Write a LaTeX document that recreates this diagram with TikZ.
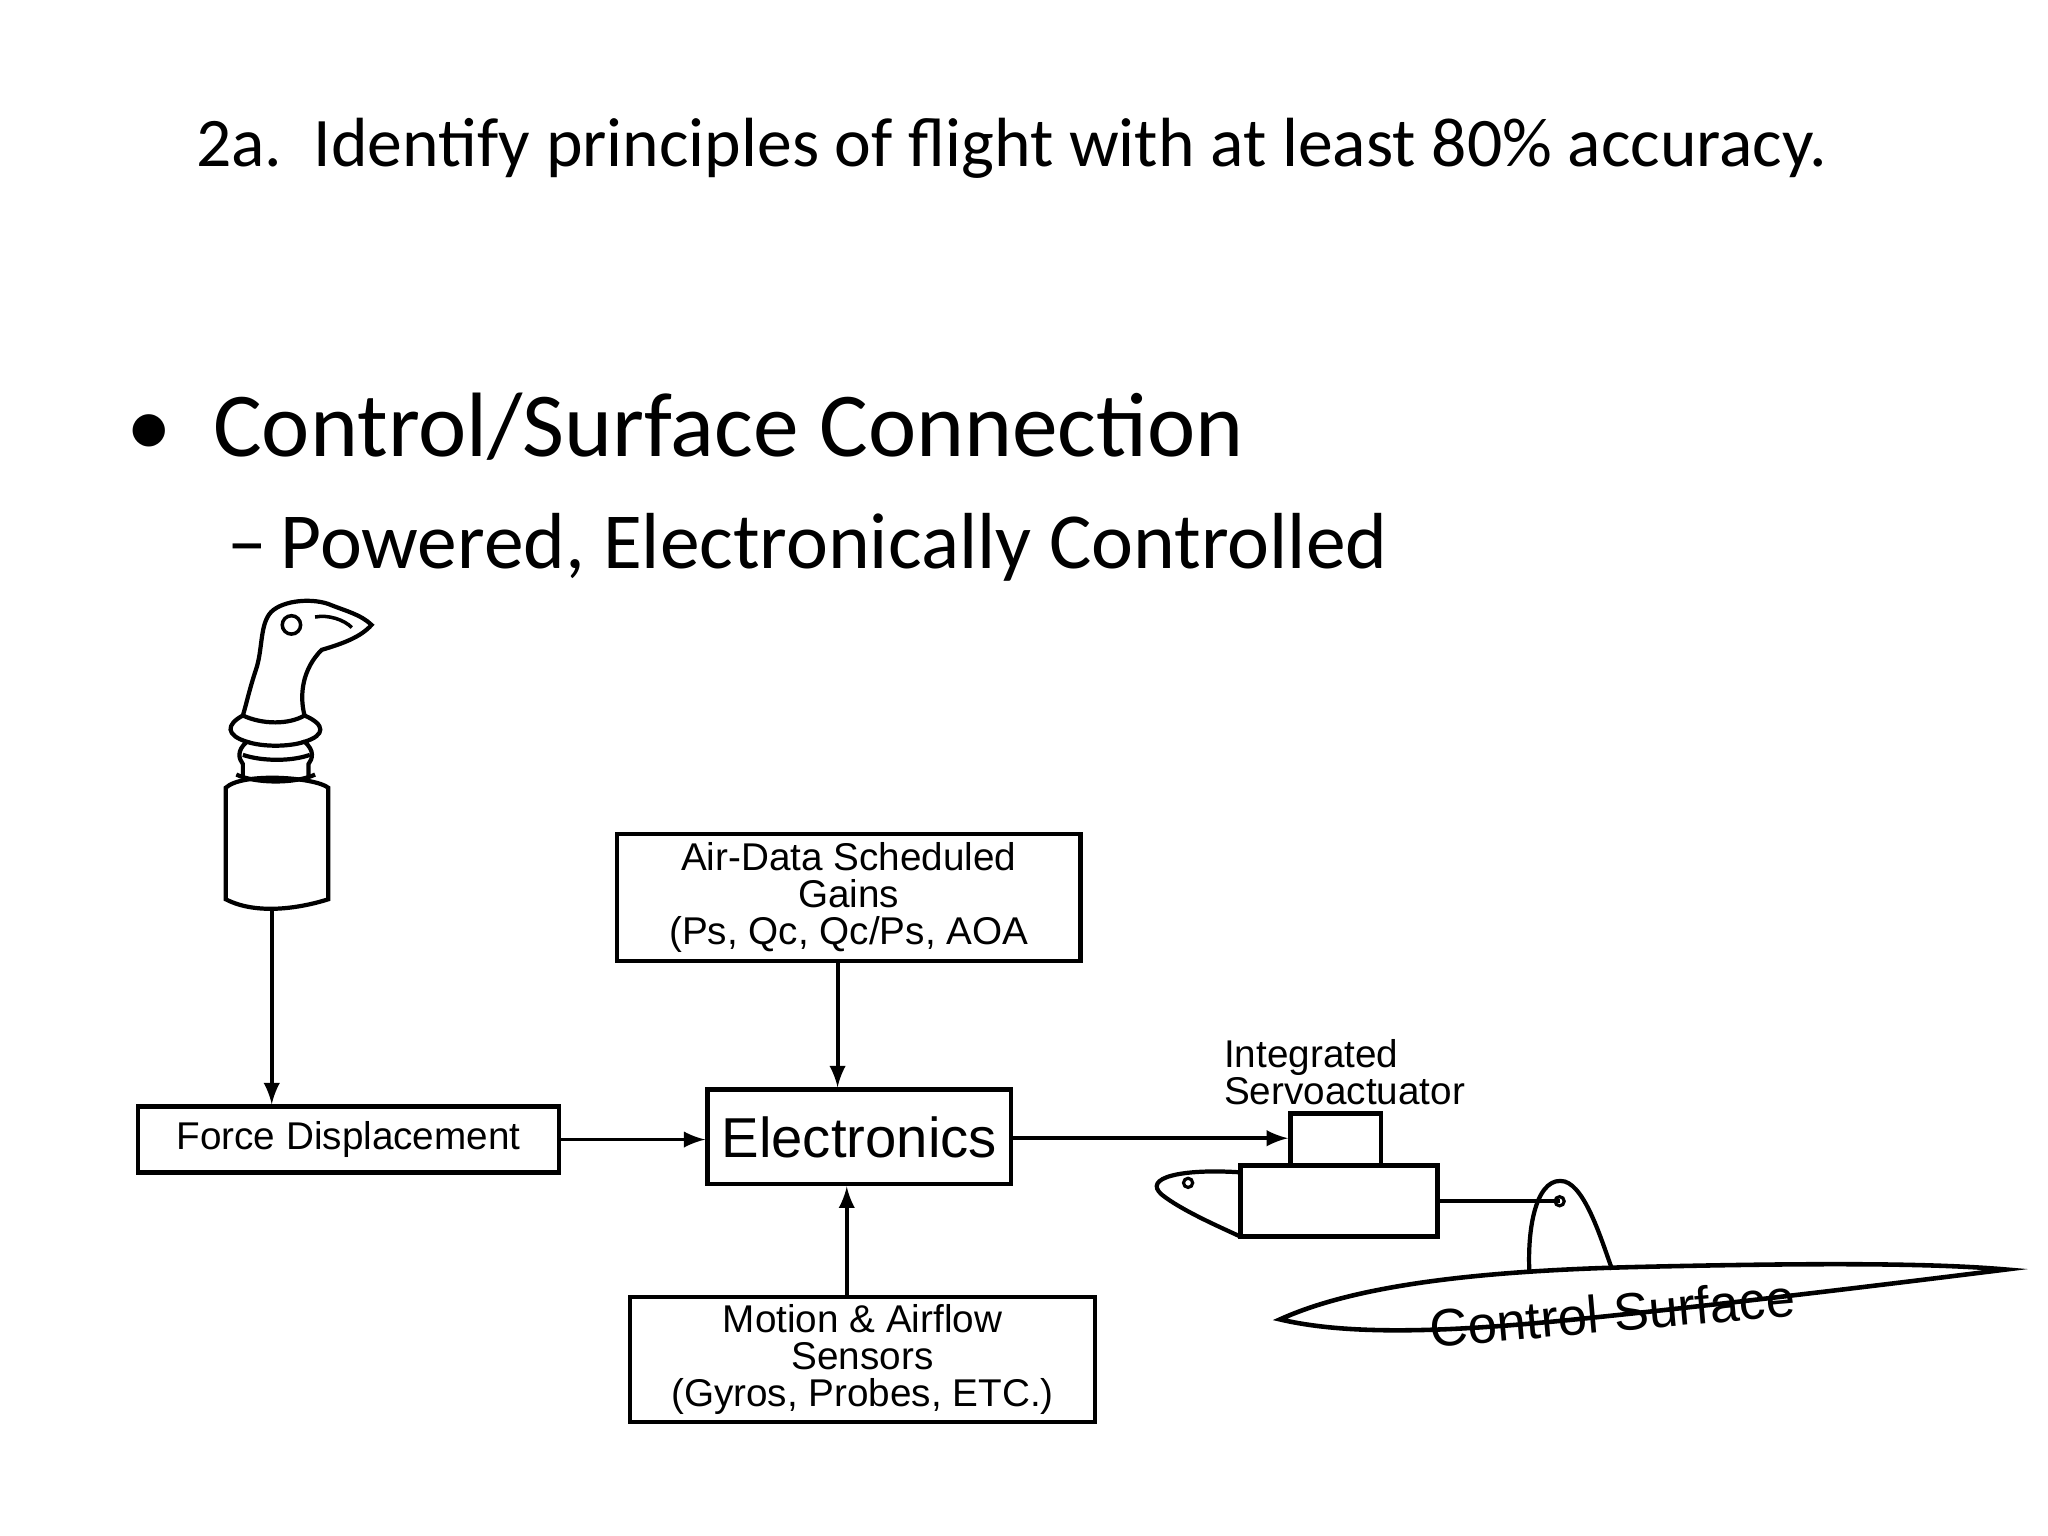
\documentclass[tikz,border=0pt]{standalone}
\usepackage{fontspec}
\setmainfont{Carlito}
\newfontfamily\dsans{Liberation Sans}
\begin{document}
\begin{tikzpicture}[x=0.013128cm,y=-0.013128cm,line width=1.1pt,
  box/.style={draw,line width=1.3pt,inner sep=0pt,font=\dsans\fontsize{11}{10.6}\selectfont,align=center},
  arr/.style={-latex,line width=1.1pt}]
\useasboundingbox (0,0) rectangle (1560,1170);
\node[anchor=west,inner sep=0,font=\fontsize{19.8}{22}\selectfont] (t) at (148,113) {2a.\ \ Identify principles of flight with at least 80\% accuracy.};
\node[anchor=west,inner sep=0,font=\fontsize{26}{30}\selectfont] (b1) at (95,325) {•\hspace{0.45em}Control/Surface Connection};
\node[anchor=west,inner sep=0,font=\fontsize{22.6}{26}\selectfont] (b2) at (172,417) {–\,Powered, Electronically Controlled};
% boxes
\node[box,minimum width=4.63cm,minimum height=1.27cm] (air) at (646.5,683.5) {Air-Data Scheduled\\Gains\\(Ps, Qc, Qc/Ps, AOA};
\node[box,minimum width=3.03cm,minimum height=0.945cm,font=\dsans\fontsize{16}{18}\selectfont] (el) at (654.5,866) {Electronics};
\node[box,minimum width=4.21cm,minimum height=0.656cm] (fd) at (265.5,868) {Force Displacement};
\node[box,minimum width=4.65cm,minimum height=1.25cm] (mo) at (657,1035.5) {Motion \& Airflow\\Sensors\\(Gyros, Probes, ETC.)};
% joystick
\draw[line width=1.2pt] (172,600) -- (172,685) .. controls (195,697) and (228,692) .. (250,685) -- (250,600) .. controls (240,592) and (185,588) .. (172,600) -- cycle;
\draw[line width=1.2pt] (180,590) .. controls (195,597) and (225,597) .. (240,590);
\draw[line width=1.2pt] (185,545) .. controls (172,552) and (172,560) .. (188,565) .. controls (180,572) and (182,578) .. (185,582) -- (185,592);
\draw[line width=1.2pt] (232,545) .. controls (248,552) and (248,560) .. (232,565) .. controls (240,572) and (238,578) .. (235,582) -- (235,592);
\draw[line width=1.2pt] (188,565) .. controls (200,569) and (220,569) .. (232,565);
\draw[line width=1.2pt] (185,575) .. controls (200,580) and (222,580) .. (236,575);
\draw[line width=1.2pt] (185,545) .. controls (200,552) and (220,552) .. (232,545) .. controls (228,530) and (230,510) .. (245,495) .. controls (262,490) and (275,485) .. (283,476) .. controls (275,468) and (262,465) .. (250,460) .. controls (235,455) and (212,458) .. (205,468) .. controls (198,478) and (200,495) .. (195,510) .. controls (190,525) and (188,535) .. (185,545) -- cycle;
\draw[line width=1pt] (222,476) circle (7);
\draw[line width=1pt] (240,470) .. controls (250,468) and (262,472) .. (268,478);
\coordinate (js) at (207,692);
\draw[arr] (js) -- (fd.north -| js);
\draw[arr] (fd.east) -- (el.west |- fd.east);
\draw[arr] (air.south -| 638,0) -- (el.north -| 638,0);
\draw[arr] (mo.north -| 645,0) -- (el.south -| 645,0);
% servo
\node[box,minimum width=0.906cm,minimum height=0.525cm] (sv) at (1017.5,868) {};
\node[box,minimum width=1.97cm,minimum height=0.709cm] (sb) at (1020,915) {};
\draw[arr] (el.east |- 0,867) -- (sv.west |- 0,867);
\draw[line width=1.2pt] (945,893) .. controls (900,890) and (870,897) .. (885,910) .. controls (900,922) and (930,935) .. (945,942);
\draw[line width=0.9pt] (905,901) circle (3.5);
\node[anchor=south west,inner sep=0,align=left,font=\dsans\fontsize{11}{10.6}\selectfont] (lab) at (931,843) {Integrated\\Servoactuator};
\coordinate (pv) at (1188,915);
\draw[line width=1.2pt] (sb.east |- pv) -- (pv);
\draw[line width=0.9pt] (pv) circle (3.5);
\draw[line width=1.2pt] (1165,970) .. controls (1163,930) and (1172,895) .. (1192,900) .. controls (1208,905) and (1220,945) .. (1228,967);
% airfoil
\draw[line width=1.3pt] (975,1005) .. controls (1030,980) and (1120,968) .. (1250,965) .. controls (1380,962) and (1470,962) .. (1528,967) .. controls (1440,978) and (1300,995) .. (1200,1005) .. controls (1110,1014) and (1030,1018) .. (975,1005) -- cycle;
\node[rotate=5,inner sep=0,font=\dsans\fontsize{15}{18}\selectfont] (cs) at (1228,1000) {Control Surface};
\end{tikzpicture}
\end{document}
